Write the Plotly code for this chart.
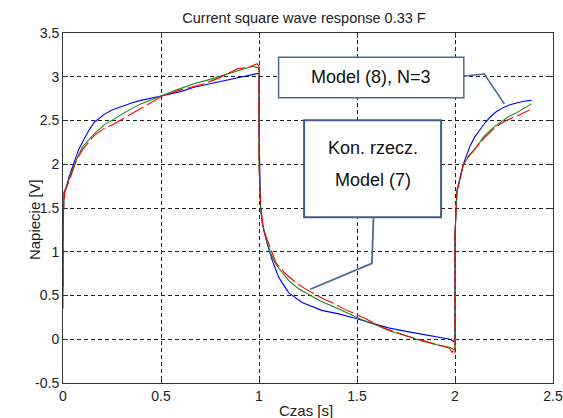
import plotly.graph_objects as go

# Sampled responses to a square-wave current (0.33 F capacitor)
t_model8 = [0, 0, 0.005, 0.015, 0.03, 0.058, 0.08, 0.108, 0.13, 0.16, 0.21, 0.25, 0.295, 0.35,
            0.397, 0.45, 0.5, 0.6, 0.669, 0.75, 0.838, 0.92, 0.985, 1.0, 1.0, 1.008, 1.017, 1.03,
            1.042, 1.068, 1.10, 1.152, 1.22, 1.32, 1.407, 1.49, 1.58, 1.66, 1.75, 1.83, 1.9,
            1.975, 1.995, 2.0, 2.0, 2.01, 2.025, 2.043, 2.06, 2.077, 2.1, 2.128, 2.155, 2.18,
            2.21, 2.247, 2.28, 2.315, 2.35, 2.39]
v_model8 = [0.55, 1.2, 1.68, 1.72, 1.85, 2.04, 2.17, 2.29, 2.38, 2.48, 2.57, 2.62, 2.66, 2.70,
            2.73, 2.76, 2.78, 2.83, 2.88, 2.92, 2.96, 3.0, 3.03, 3.04, 2.4, 1.5, 1.32, 1.2,
            1.09, 0.90, 0.71, 0.53, 0.42, 0.33, 0.29, 0.24, 0.18, 0.13, 0.09, 0.06, 0.03,
            0.0, -0.03, 0.05, 1.2, 1.70, 1.84, 2.00, 2.11, 2.21, 2.31, 2.40, 2.48, 2.54,
            2.60, 2.65, 2.68, 2.70, 2.72, 2.73]

t_model7 = [0, 0, 0.01, 0.03, 0.066, 0.1, 0.16, 0.21, 0.26, 0.33, 0.397, 0.45, 0.5, 0.58, 0.669,
            0.75, 0.84, 0.91, 0.966, 0.985, 1.0, 1.0, 1.01, 1.02, 1.042, 1.06, 1.085, 1.12,
            1.152, 1.2, 1.254, 1.31, 1.373, 1.43, 1.49, 1.54, 1.6, 1.66, 1.75, 1.83, 1.9,
            1.975, 1.995, 2.0, 2.0, 2.01, 2.025, 2.043, 2.07, 2.094, 2.12, 2.145, 2.19, 2.23,
            2.27, 2.315, 2.35, 2.39]
v_model7 = [0.6, 1.5, 1.7, 1.82, 2.04, 2.2, 2.35, 2.45, 2.52, 2.61, 2.69, 2.74, 2.78, 2.85, 2.92,
            2.97, 3.03, 3.08, 3.12, 3.11, 3.10, 2.0, 1.45, 1.30, 1.10, 0.98, 0.86, 0.76,
            0.67, 0.58, 0.51, 0.44, 0.38, 0.32, 0.26, 0.21, 0.16, 0.10, 0.04, -0.02, -0.06,
            -0.095, -0.12, -0.1, 1.2, 1.7, 1.82, 2.0, 2.09, 2.15, 2.23, 2.31, 2.41, 2.48,
            2.54, 2.59, 2.64, 2.69]

t_measured = [0, 0, 0.01, 0.03, 0.066, 0.1, 0.16, 0.21, 0.26, 0.33, 0.397, 0.45, 0.5, 0.6, 0.72,
              0.8, 0.89, 0.95, 0.975, 0.99, 1.0, 1.0, 1.008, 1.015, 1.022, 1.045, 1.085, 1.13,
              1.186, 1.24, 1.288, 1.33, 1.373, 1.43, 1.49, 1.54, 1.6, 1.66, 1.75, 1.83, 1.92,
              1.97, 1.985, 1.995, 2.0, 2.0, 2.01, 2.02, 2.04, 2.07, 2.1, 2.145, 2.19, 2.23,
              2.27, 2.315, 2.35, 2.38]
v_measured = [0.35, 1.4, 1.7, 1.8, 2.03, 2.17, 2.33, 2.41, 2.46, 2.55, 2.63, 2.70, 2.77, 2.85,
              2.92, 2.99, 3.09, 3.11, 3.13, 3.15, 3.12, 2.0, 1.55, 1.35, 1.25, 1.12, 0.88, 0.76,
              0.65, 0.57, 0.51, 0.46, 0.42, 0.35, 0.29, 0.24, 0.17, 0.11, 0.04, -0.01, -0.07,
              -0.1, -0.15, -0.12, -0.16, 1.2, 1.68, 1.78, 1.98, 2.10, 2.17, 2.29, 2.39, 2.46,
              2.51, 2.55, 2.59, 2.62]

x_ticks = [0, 0.5, 1, 1.5, 2, 2.5]
y_ticks = [-0.5, 0, 0.5, 1, 1.5, 2, 2.5, 3, 3.5]

title_text = "Current square wave response 0.33 F"
x_label = "Czas [s]"
y_label = "Napiecie [V]"
label_model8 = "Model (8), N=3"
label_measured = "Kon. rzecz."
label_model7 = "Model (7)"

FONT = "Liberation Sans, Arial, sans-serif"
BOX_COLOR = "#4a6a94"

fig = go.Figure()
fig.add_trace(go.Scatter(x=t_model8, y=v_model8, mode="lines",
                         line=dict(color="#0000ff", width=1.1), name=label_model8))
fig.add_trace(go.Scatter(x=t_model7, y=v_model7, mode="lines",
                         line=dict(color="#138a13", width=1.1), name=label_model7))
fig.add_trace(go.Scatter(x=t_measured, y=v_measured, mode="lines",
                         line=dict(color="#ff0000", width=1.1, dash="18px,4px"),
                         name=label_measured))

axis_common = dict(
    showline=True, linecolor="#333333", linewidth=1, mirror="ticks",
    ticks="inside", ticklen=5, tickcolor="#333333",
    showgrid=True, gridcolor="#222222", gridwidth=1, griddash="4px,3px",
    zeroline=False, tickfont=dict(family=FONT, size=14, color="#222222"),
    ticklabeloverflow="allow", automargin=False,
)

fig.update_layout(
    width=563, height=418,
    margin=dict(l=63, r=10, t=33, b=35, autoexpand=False),
    paper_bgcolor="white", plot_bgcolor="white",
    showlegend=False,
    title=dict(text=title_text, x=0.54, xanchor="center", y=1 - 18 / 418, yanchor="middle",
               font=dict(family=FONT, size=14.5, color="#222222")),
    xaxis=dict(range=[0, 2.5], tickvals=x_ticks, ticktext=[f"{v:g}" for v in x_ticks],
               **axis_common),
    yaxis=dict(range=[-0.5, 3.5], tickvals=y_ticks, ticktext=[f"{v:g}" for v in y_ticks],
               **axis_common),
)

# Axis titles
fig.add_annotation(text=x_label, xref="paper", yref="paper", x=0.495, y=-0.078,
                   showarrow=False, xanchor="center", yanchor="middle",
                   font=dict(family=FONT, size=15, color="#222222"))
fig.add_annotation(text=y_label, xref="paper", yref="paper", x=-0.0567, y=0.466,
                   showarrow=False, textangle=-90, xanchor="center", yanchor="middle",
                   font=dict(family=FONT, size=15, color="#222222"))

# Callout for the N=3 model
fig.add_shape(type="path", xref="x", yref="y",
              path="M 2.045 3.009 L 2.150 3.031 L 2.252 2.689",
              line=dict(color=BOX_COLOR, width=1.5))
fig.add_shape(type="rect", xref="x", yref="y", x0=1.100, x1=2.045, y0=2.761, y1=3.222,
              fillcolor="white", line=dict(color=BOX_COLOR, width=1.5))
fig.add_annotation(text=label_model8, x=1.572, y=2.992, xref="x", yref="y", showarrow=False,
                   font=dict(family=FONT, size=18, color="#111111"))

# Callout for the measured curve and model (7)
fig.add_shape(type="path", xref="x", yref="y",
              path="M 1.584 1.382 L 1.576 0.868 L 1.262 0.571",
              line=dict(color=BOX_COLOR, width=1.8))
fig.add_shape(type="rect", xref="x", yref="y", x0=1.230, x1=1.929, y0=1.394, y1=2.502,
              fillcolor="white", line=dict(color="#3d5e8c", width=2))
fig.add_annotation(text=label_measured, x=1.580, y=2.182, xref="x", yref="y", showarrow=False,
                   font=dict(family=FONT, size=18, color="#111111"))
fig.add_annotation(text=label_model7, x=1.580, y=1.82, xref="x", yref="y", showarrow=False,
                   font=dict(family=FONT, size=18, color="#111111"))

fig.write_html("out.html")
